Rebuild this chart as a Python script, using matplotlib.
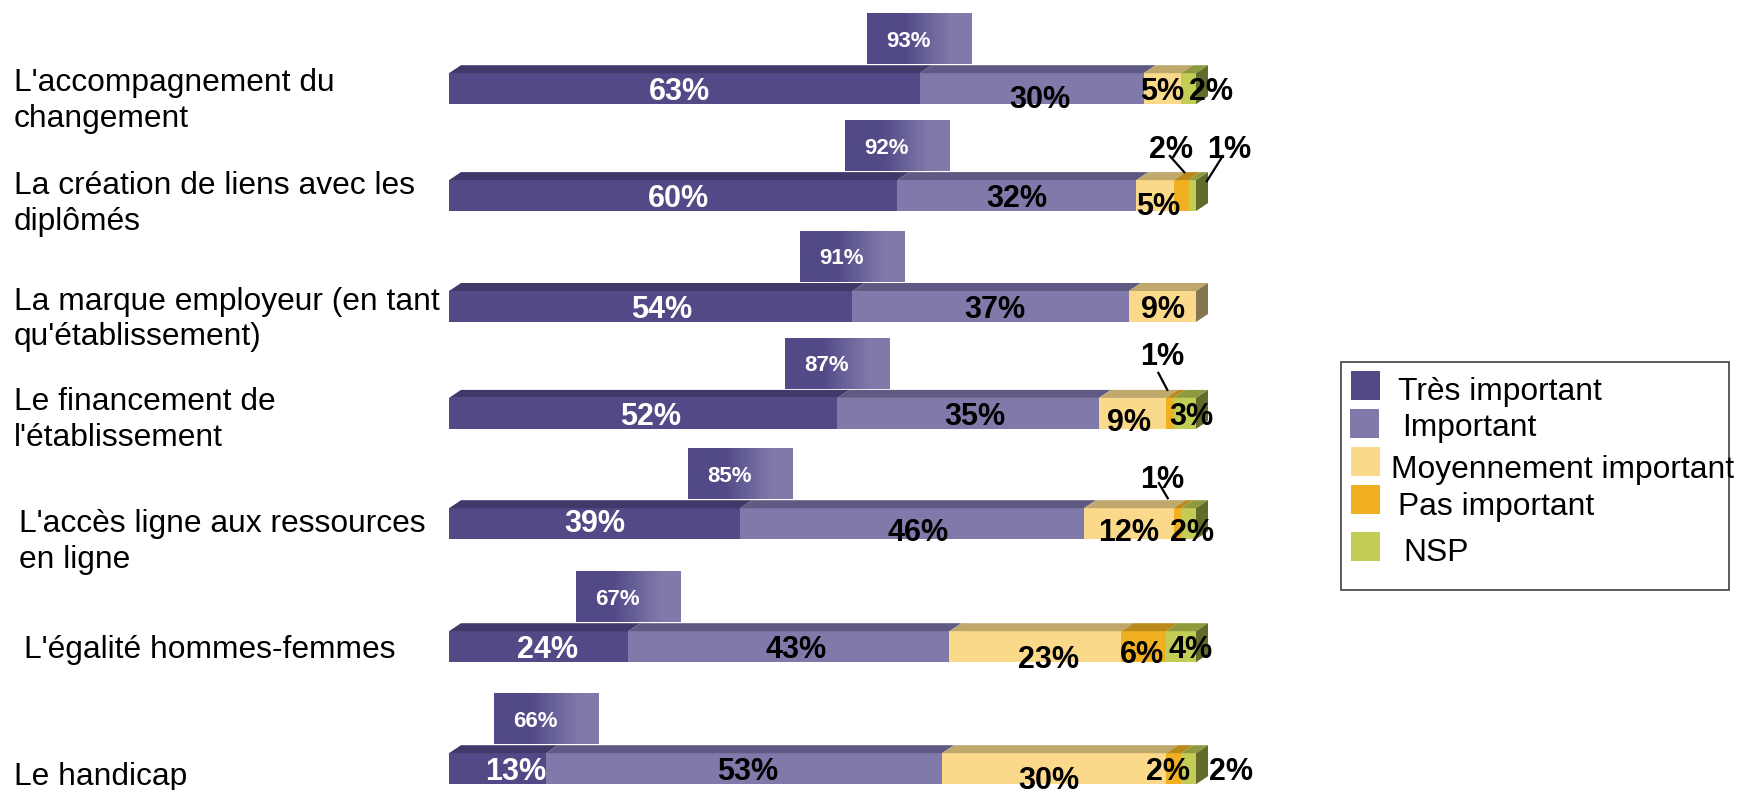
import numpy as np
import matplotlib
matplotlib.use('Agg')
import matplotlib.pyplot as plt
from matplotlib.patches import Polygon, Rectangle
from matplotlib.colors import LinearSegmentedColormap

plt.rcParams['font.family'] = ['Liberation Sans', 'DejaVu Sans']

# survey answers, % of respondents per theme
themes = ["L'accompagnement du\nchangement",
          "La création de liens avec les\ndiplômés",
          "La marque employeur (en tant\nqu'établissement)",
          "Le financement de\nl'établissement",
          "L'accès ligne aux ressources\nen ligne",
          "L'égalité hommes-femmes",
          "Le handicap"]
tres_important = [63, 60, 54, 52, 39, 24, 13]
important = [30, 32, 37, 35, 46, 43, 53]
moyen_important = [5, 5, 9, 9, 12, 23, 30]
pas_important = [0, 2, 0, 1, 1, 6, 2]
nsp = [2, 1, 0, 3, 2, 4, 2]
totals = [93, 92, 91, 87, 85, 67, 66]   # très important + important

series_names = ['Très important', 'Important', 'Moyennement important',
                'Pas important', 'NSP']
series = [tres_important, important, moyen_important, pas_important, nsp]

front = ['#514a87', '#807aaa', '#fad98a', '#f0b022', '#c3cc55']
top = ['#3f3a6a', '#5f5a84', '#c0a76c', '#bb8a1c', '#8e9a3e']
side = ['#2f2b55', '#4c4870', '#857650', '#8f6a14', '#636b2b']

# layout (pixels)
W, H = 1738, 790
X0, PX = 449, 7.47          # x pixel of 0 %, pixels per %
row_y = [88.7, 195.6, 306.5, 413.4, 523.7, 646.7, 768.7]
bar_h = 31
dxp, dy = 12, 8             # depth of the 3d faces
dx = dxp / PX

label_indent = [0, 0, 0, 0, 5, 10, 0]
label_dy = [12, 8, 13, 7, 18, 3, 8]

nudge = {(0, 0): (-5, 0), (0, 1): (8, 8), (0, 2): (0, 0), (0, 4): (22, 0),
         (1, 0): (5, 0), (1, 1): (0, 0), (1, 2): (3, 8),
         (2, 0): (11, 0), (2, 1): (4, 0), (2, 2): (1, 0),
         (3, 0): (7, 0), (3, 1): (7, 0), (3, 2): (-4, 6), (3, 4): (7, 0),
         (4, 0): (0, -3), (4, 1): (6, 6), (4, 2): (0, 6), (4, 4): (3, 6),
         (5, 0): (9, 0), (5, 1): (7, 0), (5, 2): (13, 10), (5, 3): (-2, 5), (5, 4): (10, 0),
         (6, 0): (18, 0), (6, 1): (4, 0), (6, 2): (-5, 9), (6, 3): (-6, 0), (6, 4): (42, 0)}

# small segments labelled with a leader line:
# text centre, line start, line tip -- offsets (px) from segment centre / bar top
callouts = {(1, 3): ((-10, -34), (-12, -25), (4, -7)),
            (1, 4): ((37, -34), (31, -25), (14, 2)),
            (3, 3): ((-8, -44), (-12, -26), (-2, -7)),
            (4, 3): ((-15, -32), (-19, -26), (-9, -9))}

fig = plt.figure(figsize=(W / 100, H / 100), dpi=100)
ax = fig.add_axes([0, 0, 1, 1])
ax.axis('off')

left = np.zeros(len(themes))
for k, vals in enumerate(series):
    vals = np.array(vals, dtype=float)
    ax.barh(row_y, vals, left=left, height=bar_h, color=front[k], linewidth=0, zorder=2)
    for i, v in enumerate(vals):
        if v <= 0:
            continue
        x0, x1 = left[i], left[i] + v
        yt = row_y[i] - bar_h / 2
        ax.add_patch(Polygon([(x0, yt), (x1, yt), (x1 + dx, yt - dy), (x0 + dx, yt - dy)],
                             closed=True, facecolor=top[k], edgecolor='none', zorder=2))
        # end face of the bar
        if abs(x1 - 100) < 1e-6:
            yb = row_y[i] + bar_h / 2
            ax.add_patch(Polygon([(x1, yt), (x1 + dx, yt - dy), (x1 + dx, yb - dy), (x1, yb)],
                                 closed=True, facecolor=side[k], edgecolor='none', zorder=2))
        xc = (x0 + x1) / 2
        if (i, k) in callouts:
            (tx, ty), (sx, sy), (px, py) = callouts[(i, k)]
            ax.text(xc + tx / PX, yt + ty, f'{v:.0f}%', ha='center', va='center_baseline',
                    fontsize=22, fontweight='bold', color='black', zorder=5)
            ax.plot([xc + sx / PX, xc + px / PX], [yt + sy, yt + py],
                    color='black', lw=1.6, zorder=5, solid_capstyle='butt')
        else:
            ndx, ndy = nudge.get((i, k), (0, 0))
            ax.text(xc + ndx / PX, row_y[i] + ndy, f'{v:.0f}%', ha='center',
                    va='center_baseline', fontsize=22, fontweight='bold',
                    color='white' if k == 0 else 'black', zorder=5)
    left += vals

# total boxes centred on the end of "Très important"
grad = LinearSegmentedColormap.from_list('tot', [(0, front[0]), (0.35, front[0]),
                                                 (0.8, front[1]), (1, front[1])])
box_w = 105 / PX
box_h = 51
for i, t in enumerate(totals):
    c = tres_important[i]
    yb = row_y[i] - bar_h / 2 - dy - 1
    ax.imshow(np.linspace(0, 1, 256).reshape(1, -1), cmap=grad, aspect='auto',
              extent=(c - box_w / 2, c + box_w / 2, yb, yb - box_h), zorder=3)
    ax.text(c - 11 / PX, yb - box_h / 2, f'{t}%', ha='center', va='center_baseline',
            fontsize=16, fontweight='bold', color='white', zorder=5)

# theme labels
for i, name in enumerate(themes):
    ax.text((14 + label_indent[i] - X0) / PX, row_y[i] + label_dy[i], name,
            ha='left', va='center', fontsize=22.9, linespacing=1.26, color='black')

ax.set_xlim(-X0 / PX, (W - X0) / PX)
ax.set_ylim(H, 0)

# legend drawn in pixel space
lg = fig.add_axes([0, 0, 1, 1])
lg.axis('off')
lg.set_xlim(0, W)
lg.set_ylim(H, 0)
lg.add_patch(Rectangle((1341, 362), 388, 228, facecolor='none', edgecolor='#404040', lw=1.2))
sq_x = [1351, 1350, 1351, 1351, 1351]
sq_y = [371, 409, 447, 485, 532]
tx_x = [1398, 1402, 1391, 1398, 1403]
tx_y = [392, 428, 470, 507, 553]
for k, name in enumerate(series_names):
    lg.add_patch(Rectangle((sq_x[k], sq_y[k]), 29, 29, facecolor=front[k], edgecolor='none'))
    lg.text(tx_x[k], tx_y[k], name, ha='left', va='center', fontsize=22.9, color='black')

fig.savefig('out.png', dpi=100)
